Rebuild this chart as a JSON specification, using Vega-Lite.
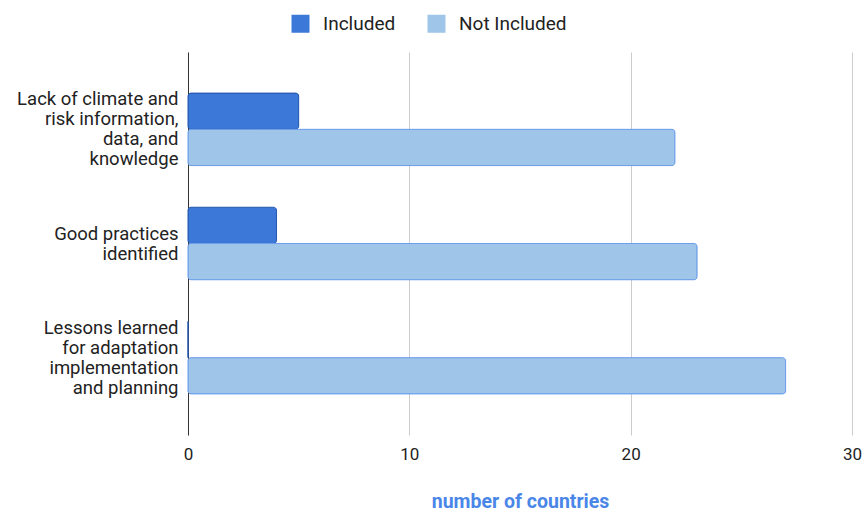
{
  "$schema": "https://vega.github.io/schema/vega-lite/v6.json",
  "autosize": {"type": "none"},
  "width": 664,
  "height": 383,
  "padding": {"left": 188, "top": 52, "right": 13, "bottom": 77},
  "background": "#ffffff",
  "config": {
    "font": "Roboto",
    "view": {"stroke": null}
  },
  "data": {
    "values": [
      {"category": "Lack of climate and risk information, data, and knowledge", "status": "Included", "count": 5},
      {"category": "Lack of climate and risk information, data, and knowledge", "status": "Not Included", "count": 22},
      {"category": "Good practices identified", "status": "Included", "count": 4},
      {"category": "Good practices identified", "status": "Not Included", "count": 23},
      {"category": "Lessons learned for adaptation implementation and planning", "status": "Included", "count": 0},
      {"category": "Lessons learned for adaptation implementation and planning", "status": "Not Included", "count": 27}
    ]
  },
  "mark": {"type": "bar", "cornerRadius": 3, "strokeWidth": 1},
  "encoding": {
    "y": {
      "field": "category",
      "type": "nominal",
      "sort": [
        "Lack of climate and risk information, data, and knowledge",
        "Good practices identified",
        "Lessons learned for adaptation implementation and planning"
      ],
      "scale": {"paddingInner": 0.365, "paddingOuter": 0.36},
      "axis": {
        "title": null,
        "ticks": false,
        "domain": true,
        "domainColor": "#333333",
        "domainWidth": 1,
        "labelFont": "Roboto",
        "labelFontSize": 18.5,
        "labelColor": "#222222",
        "labelPadding": 10,
        "labelLimit": 220,
        "labelLineHeight": 20,
        "labelOffset": {
          "condition": {"test": "datum.value == 'Good practices identified'", "value": -10},
          "value": -30
        },
        "labelExpr": "datum.value == 'Lack of climate and risk information, data, and knowledge' ? ['Lack of climate and', 'risk information,', 'data, and', 'knowledge'] : datum.value == 'Good practices identified' ? ['Good practices', 'identified'] : ['Lessons learned', 'for adaptation', 'implementation', 'and planning']"
      }
    },
    "yOffset": {
      "field": "status",
      "type": "nominal",
      "sort": ["Included", "Not Included"],
      "scale": {"paddingInner": 0, "paddingOuter": 0}
    },
    "x": {
      "field": "count",
      "type": "quantitative",
      "scale": {"domain": [0, 30], "nice": false},
      "axis": {
        "values": [0, 10, 20, 30],
        "title": "number of countries",
        "titleFont": "Roboto",
        "titleFontSize": 19.5,
        "titleFontWeight": "bold",
        "titleColor": "#4a86e8",
        "titlePadding": 30,
        "domain": false,
        "ticks": false,
        "grid": true,
        "gridColor": "#cccccc",
        "gridWidth": 1,
        "labelFont": "Roboto",
        "labelFontSize": 17,
        "labelColor": "#222222",
        "labelPadding": 11,
        "labelFlush": false
      }
    },
    "color": {
      "field": "status",
      "type": "nominal",
      "scale": {"domain": ["Included", "Not Included"], "range": ["#3c78d8", "#9fc5e8"]},
      "legend": {
        "title": null,
        "orient": "none",
        "direction": "horizontal",
        "legendX": 103,
        "legendY": -38,
        "symbolType": "square",
        "symbolSize": 324,
        "symbolStrokeWidth": 0,
        "symbolOpacity": 1,
        "labelFont": "Roboto",
        "labelFontSize": 19,
        "labelColor": "#222222",
        "labelOffset": 13,
        "columnPadding": 31
      }
    },
    "stroke": {
      "field": "status",
      "type": "nominal",
      "scale": {"domain": ["Included", "Not Included"], "range": ["#2458b0", "#6d9eeb"]},
      "legend": null
    }
  }
}
